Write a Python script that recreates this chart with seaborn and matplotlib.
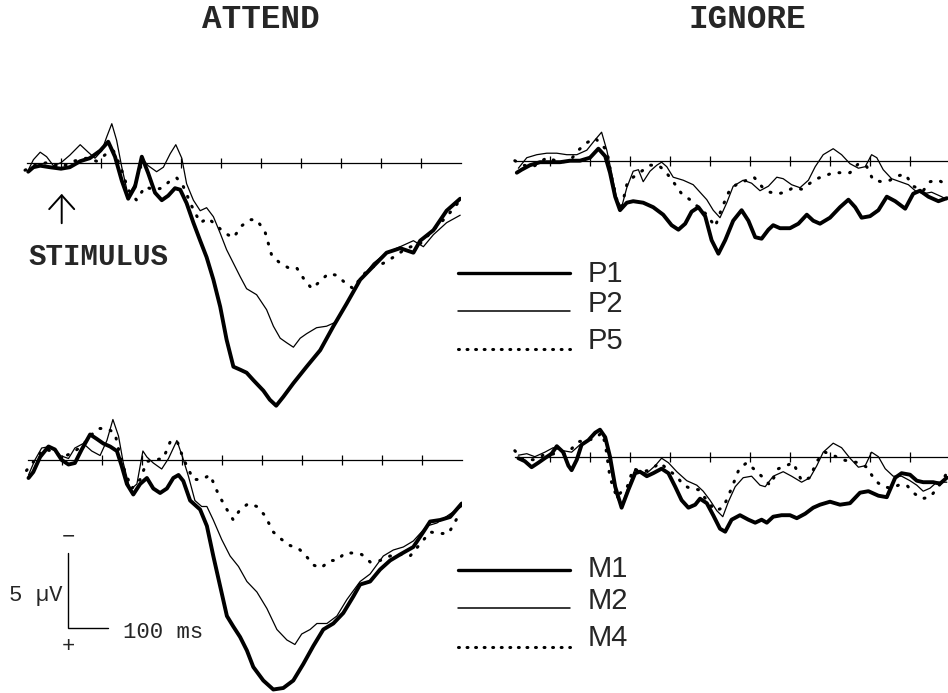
import matplotlib
matplotlib.use("Agg")
import matplotlib.pyplot as plt
from matplotlib.lines import Line2D
import numpy as np
import pandas as pd
import seaborn as sns

# ---------------- data (time in ms, amplitude in microvolts; negative plotted up) ----------------
ATT_P1_T = [-82,-69,-52,-28,0,22,48,72,98,118,135,152,168,185,202,218,235,252,268,285,298,314,331,348,364,381,398,414,431,448,464,481,506,522,538,556,581,614,648,681,714,748,781,814,848,881,898,931,964,998]
ATT_P1_V = [0.6,0.3,0.2,0.3,0.4,0.3,-0.1,-0.3,-0.8,-1.4,-0.4,1.2,2.4,1.6,-0.4,0.7,2.0,2.5,2.2,1.7,1.8,2.7,4.0,5.2,6.3,7.8,9.6,11.8,13.6,13.8,14.0,14.5,15.2,15.8,16.2,15.6,14.7,13.6,12.5,10.9,9.4,7.8,6.9,6.0,5.7,6.0,5.2,4.5,3.2,2.4]
ATT_P2_T = [-82,-69,-52,-36,-19,0,22,48,68,85,102,114,127,139,152,168,185,202,218,239,256,273,287,302,314,331,348,364,381,398,414,431,448,464,489,514,531,548,564,581,598,614,639,664,689,714,748,781,814,848,881,906,931,964,998]
ATT_P2_V = [0.5,-0.2,-0.7,-0.4,0.2,0.0,-0.5,-1.2,-0.7,-0.3,-0.8,-1.7,-2.6,-1.5,0.3,2.2,1.4,-0.3,0.2,0.6,0.3,-0.6,-1.2,-0.3,1.4,2.5,3.2,3.0,3.6,4.7,5.8,6.7,7.6,8.4,8.8,9.8,10.9,11.7,12.0,12.3,11.7,11.4,11.0,10.9,10.6,9.4,7.8,6.7,6.0,5.6,5.2,5.6,4.8,4.0,3.5]
ATT_P5_T = [-90,-69,-36,0,31,64,89,114,131,148,168,189,210,231,252,273,289,306,327,348,368,389,410,431,452,473,489,510,527,548,568,589,606,627,648,668,689,710,731,748,773,806,831,864,898,923,964,998]
ATT_P5_V = [0.5,0.2,0.0,0.3,-0.1,-0.3,-0.1,-0.6,-0.8,0.2,1.8,2.5,1.6,1.8,1.7,1.2,1.0,1.6,2.9,4.0,3.7,4.2,4.7,5.0,4.2,3.8,3.8,4.6,6.2,6.7,7.0,7.0,7.7,8.4,7.9,7.4,7.5,8.0,8.4,7.7,7.0,6.7,6.3,5.7,5.4,4.7,3.6,2.5]

ATT_M1_T = [-83,-71,-54,-33,-17,0,17,33,50,71,88,104,121,138,150,163,179,196,213,229,246,263,279,292,304,321,346,363,379,396,413,429,446,463,479,504,529,554,579,604,629,654,679,704,729,746,771,796,821,846,879,904,921,946,971,1000]
ATT_M1_V = [1.2,0.8,-0.2,-0.9,-0.7,0.0,0.3,0.2,-0.7,-1.7,-1.4,-1.1,-0.9,-0.6,0.4,1.6,2.3,1.6,1.2,1.9,2.2,1.9,1.2,1.0,1.4,2.7,3.3,4.4,6.4,8.4,10.4,11.1,11.8,12.7,13.8,14.7,15.3,15.2,14.7,13.6,12.4,11.3,10.9,10.2,9.1,8.3,8.1,7.3,6.7,6.3,5.8,4.8,4.1,4.0,3.8,2.9]
ATT_M2_T = [-83,-67,-50,-29,-4,17,33,54,75,96,113,128,142,154,171,188,203,213,229,250,267,288,302,317,333,350,363,379,400,421,442,463,488,513,538,563,583,600,621,638,663,688,713,746,771,804,829,854,879,913,938,971,1000]
ATT_M2_V = [1.0,0.0,-0.8,-0.9,-0.3,-0.1,-0.8,-1.1,-0.6,-0.3,-1.3,-2.7,-1.6,0.2,2.0,1.6,-0.6,-0.2,0.2,0.6,-0.1,-1.3,-0.2,1.1,2.7,3.1,3.1,4.0,5.3,6.4,7.1,8.1,8.8,9.9,11.3,12.0,12.3,11.6,11.3,10.9,10.9,10.4,9.3,8.1,7.6,6.4,6.0,5.8,5.4,4.4,4.2,3.6,3.1]
ATT_M4_T = [-88,-67,-46,-21,0,21,50,71,92,113,133,150,175,196,213,229,254,271,288,304,329,350,371,392,413,429,446,467,488,508,529,550,571,592,608,629,648,671,688,708,729,750,771,796,821,846,871,896,921,946,967,988]
ATT_M4_V = [0.7,0.0,-0.7,-0.6,-0.2,-0.4,-0.9,-1.6,-2.1,-2.1,-1.8,0.2,1.9,1.3,0.1,0.0,-0.1,-1.2,-1.3,-0.1,1.3,1.3,1.0,2.3,3.3,4.0,3.3,2.9,3.1,3.7,4.8,5.3,5.7,5.9,6.3,7.0,7.2,6.7,6.7,6.2,6.2,6.3,6.8,6.7,6.4,6.3,6.4,5.6,4.8,4.9,4.9,3.9]

IGN_P1_T = [-83,-71,-50,-25,0,25,50,75,100,121,138,150,163,175,192,208,233,258,283,304,321,338,354,371,388,404,421,438,458,479,496,513,529,546,558,575,600,621,642,658,675,700,725,746,763,779,800,821,842,863,888,908,925,946,971,992]
IGN_P1_V = [0.8,0.6,0.3,0.1,0.1,0.1,0.0,0.0,-0.2,-0.8,-0.3,0.8,2.4,3.3,2.8,2.7,2.8,3.1,3.6,4.3,4.6,4.2,3.4,3.1,3.7,5.3,6.2,5.3,4.0,3.3,4.0,5.1,5.2,4.6,4.3,4.5,4.5,4.2,3.6,4.0,4.2,3.8,3.1,2.6,3.1,3.8,3.7,3.3,2.4,2.7,3.2,2.2,2.0,2.4,2.7,2.5]
IGN_P2_T = [-79,-58,-33,-8,17,42,67,92,113,129,142,154,167,179,192,208,221,233,250,267,279,292,308,333,358,375,392,408,425,442,458,483,504,525,546,567,583,604,625,646,663,683,708,729,750,771,788,804,817,833,854,875,896,913,933,954,979,992]
IGN_P2_V = [0.5,-0.2,-0.4,-0.5,-0.5,-0.4,-0.4,-0.7,-1.4,-1.9,-0.7,0.8,2.6,3.1,1.8,0.7,0.6,1.4,0.7,0.3,0.1,0.4,1.1,1.3,1.6,2.1,2.6,3.3,3.8,2.8,1.7,1.3,1.5,2.0,1.7,1.1,1.2,1.6,1.8,1.3,0.4,-0.4,-0.8,-0.4,0.2,0.5,0.4,-0.4,-0.2,0.6,1.2,1.4,1.6,2.0,2.2,2.1,2.4,2.6]
IGN_P5_T = [-88,-67,-42,-8,25,50,71,92,113,142,154,167,179,192,208,229,250,271,288,308,329,350,371,392,413,429,450,471,492,510,532,550,571,588,608,629,650,667,688,708,729,750,771,792,808,829,850,871,888,908,933,950,971,992]
IGN_P5_V = [0.0,0.3,0.4,-0.2,0.1,0.0,-0.7,-1.2,-1.5,-0.7,1.1,2.6,3.1,1.6,1.1,0.7,0.3,0.3,0.7,1.4,2.2,2.6,3.1,3.6,4.4,3.2,1.9,1.5,1.3,1.1,1.8,2.1,2.2,2.1,1.8,1.9,1.5,1.2,1.0,0.8,0.8,0.8,0.2,0.4,1.3,1.4,1.3,1.0,0.9,1.7,2.0,1.4,1.3,1.6]

IGN_M1_T = [-79,-63,-46,-29,-13,4,17,33,46,54,67,79,96,113,125,138,150,163,179,196,213,225,242,258,279,296,313,329,346,363,375,392,408,425,438,454,475,496,513,529,542,558,579,600,617,638,658,675,700,725,750,775,796,821,842,863,879,900,917,933,958,975,992]
IGN_M1_V = [0.1,0.3,0.7,0.4,0.1,-0.2,-0.7,-0.3,0.6,0.9,0.2,-0.8,-1.1,-1.6,-1.8,-1.3,0.0,2.0,3.4,2.2,1.1,1.0,1.3,1.1,0.8,1.1,2.0,2.9,3.4,3.2,2.8,3.1,3.9,4.8,5.0,4.2,3.9,4.2,4.4,4.2,4.4,4.0,3.9,3.9,4.1,3.8,3.4,3.2,3.0,3.2,3.1,2.4,2.3,2.6,2.7,1.4,1.1,1.2,1.6,1.7,1.7,1.8,1.4]
IGN_M2_T = [-79,-58,-38,-13,8,33,54,75,92,113,127,142,154,167,179,196,213,225,242,263,279,296,317,342,367,383,400,417,432,446,463,483,504,525,538,558,583,604,629,650,667,683,708,729,750,771,788,804,821,838,858,879,900,917,933,950,967,992]
IGN_M2_V = [-0.1,-0.2,0.0,-0.3,-0.6,-0.4,-0.3,-0.8,-1.0,-1.6,-1.8,-0.9,1.1,2.7,3.3,2.0,0.8,1.0,1.1,0.6,0.1,0.4,1.0,1.6,1.9,2.3,2.9,3.6,4.0,3.0,2.0,1.4,1.3,1.9,2.0,1.3,1.0,1.3,1.7,1.4,0.6,-0.3,-0.9,-0.6,0.1,0.7,0.6,-0.3,0.0,0.8,1.3,1.3,1.6,1.9,2.3,2.1,1.7,1.7]
IGN_M4_T = [-88,-67,-42,-17,13,42,71,92,113,129,138,150,167,183,192,208,229,250,275,296,317,333,350,371,392,413,433,454,473,492,513,533,550,571,590,608,629,650,667,688,708,729,750,771,792,813,833,854,871,892,908,929,950,971,992]
IGN_M4_V = [-0.4,0.2,0.2,-0.1,-0.2,-0.2,-1.0,-1.1,-1.2,-1.6,-0.9,1.4,2.7,2.2,2.1,0.8,1.0,0.9,0.4,0.9,1.3,1.9,2.1,2.2,2.9,3.6,3.4,2.1,0.8,0.4,0.9,1.4,1.9,0.8,0.6,0.4,1.6,1.4,0.3,-0.3,-0.1,0.2,0.3,0.4,0.7,1.6,2.0,2.1,1.9,1.9,2.4,2.8,2.7,2.0,1.1]

TOP_LABELS = ["P1", "P2", "P5"]
BOTTOM_LABELS = ["M1", "M2", "M4"]
TICKS_MS = list(range(0, 1000, 100))
SCALE_MS, SCALE_UV = 100, 5

# ---------------- layout ----------------
W, H = 948, 693
PX_MS, PX_UV = 0.4, 15.0   # pixels per ms / per microvolt

sns.set_theme(style="white")
plt.rcParams["font.family"] = ["Liberation Mono", "DejaVu Sans Mono"]

fig = plt.figure(figsize=(W / 100, H / 100), dpi=100)
fig.patch.set_facecolor("white")

STYLES = {
    "thick": dict(linewidth=2.8, linestyle="-", solid_capstyle="round", solid_joinstyle="round"),
    "thin": dict(linewidth=0.9, linestyle="-", solid_joinstyle="round"),
    "dot": dict(linewidth=2.2, linestyle=(0, (0.3, 3.2)), dash_capstyle="round"),
}


def make_panel(stim_x, base_y, t_lim, v_lim, axis_start):
    left = stim_x + t_lim[0] * PX_MS
    right = stim_x + t_lim[1] * PX_MS
    top = base_y + v_lim[0] * PX_UV
    bottom = base_y + v_lim[1] * PX_UV
    ax = fig.add_axes([left / W, 1 - bottom / H, (right - left) / W, (bottom - top) / H])
    ax.set_facecolor("none")
    ax.set_xlim(*t_lim)
    ax.set_ylim(v_lim[1], v_lim[0])  # negative up
    for s in ["left", "right", "top"]:
        ax.spines[s].set_visible(False)
    sp = ax.spines["bottom"]
    sp.set_position(("data", 0))
    sp.set_bounds(axis_start, 1000)
    sp.set_linewidth(0.9)
    sp.set_color("black")
    ax.set_xticks(TICKS_MS)
    ax.set_yticks([])
    ax.tick_params(axis="x", bottom=True, direction="inout", length=7, width=0.9,
                   color="black", labelbottom=False)
    return ax


def draw(ax, series):
    for t, v, st in series:
        sns.lineplot(x=t, y=v, ax=ax, color="black", estimator=None, sort=False, **STYLES[st])
    ax.set_xlabel("")
    ax.set_ylabel("")


ax_tl = make_panel(61.0, 162.7, (-100, 1000), (-4, 17), -85)
ax_bl = make_panel(61.7, 460.0, (-100, 1000), (-4, 15.5), -85)
ax_tr = make_panel(550.0, 160.7, (-100, 1000), (-4, 17), -87)
ax_br = make_panel(550.0, 456.7, (-100, 1000), (-4, 15.5), -87)

draw(ax_tl, [(ATT_P5_T, ATT_P5_V, "dot"), (ATT_P2_T, ATT_P2_V, "thin"), (ATT_P1_T, ATT_P1_V, "thick")])
draw(ax_bl, [(ATT_M4_T, ATT_M4_V, "dot"), (ATT_M2_T, ATT_M2_V, "thin"), (ATT_M1_T, ATT_M1_V, "thick")])
draw(ax_tr, [(IGN_P5_T, IGN_P5_V, "dot"), (IGN_P2_T, IGN_P2_V, "thin"), (IGN_P1_T, IGN_P1_V, "thick")])
draw(ax_br, [(IGN_M4_T, IGN_M4_V, "dot"), (IGN_M2_T, IGN_M2_V, "thin"), (IGN_M1_T, IGN_M1_V, "thick")])


def fx(x):
    return x / W


def fy(y):
    return 1 - y / H


# titles
fig.text(fx(261), fy(20), "ATTEND", ha="center", va="center", fontsize=23.5, fontweight="bold")
fig.text(fx(747), fy(20), "IGNORE", ha="center", va="center", fontsize=23.5, fontweight="bold")

# stimulus arrow + label
fig.add_artist(matplotlib.patches.FancyArrowPatch(
    (fx(61.7), fy(226)), (fx(61.7), fy(191)), transform=fig.transFigure,
    arrowstyle="->,head_length=0.5,head_width=0.45", mutation_scale=20, lw=1.4, color="black"))
fig.text(fx(98.5), fy(257), "STIMULUS", ha="center", va="center", fontsize=21, fontweight="bold")

# legends
leg_styles = ["thick", "thin", "dot"]
leg_kw = {
    "thick": dict(linewidth=2.4, linestyle="-", solid_capstyle="round"),
    "thin": dict(linewidth=1.1, linestyle="-"),
    "dot": dict(linewidth=2.2, linestyle=(0, (0.3, 2.5)), dash_capstyle="round"),
}
for labels, line_ys, text_ys in [(TOP_LABELS, [273, 311, 349], [274, 304, 341]),
                                 (BOTTOM_LABELS, [570, 608, 647], [569, 601, 638])]:
    for lab, ly, ty, st in zip(labels, line_ys, text_ys, leg_styles):
        fig.add_artist(Line2D([fx(458), fx(570)], [fy(ly), fy(ly)], transform=fig.transFigure,
                              color="black", **leg_kw[st]))
        fig.text(fx(588), fy(ty), lab, ha="left", va="center", fontsize=21,
                 family=["Liberation Sans", "DejaVu Sans"])

# calibration bar (5 uV / 100 ms) in bottom-left panel data units
t0, v0 = 16.5, 11.2
ax_bl.plot([t0, t0, t0 + SCALE_MS], [v0 - SCALE_UV, v0, v0], color="black", lw=1.0,
           clip_on=False, solid_joinstyle="miter")
fig.text(fx(68), fy(537), "\u2212", ha="center", va="center", fontsize=16)
fig.text(fx(68), fy(646), "+", ha="center", va="center", fontsize=16)
fig.text(fx(63), fy(596), f"{SCALE_UV} \u00b5V", ha="right", va="center", fontsize=16)
fig.text(fx(123), fy(633), f"{SCALE_MS} ms", ha="left", va="center", fontsize=16)

fig.savefig("out.png", dpi=100, facecolor="white")
